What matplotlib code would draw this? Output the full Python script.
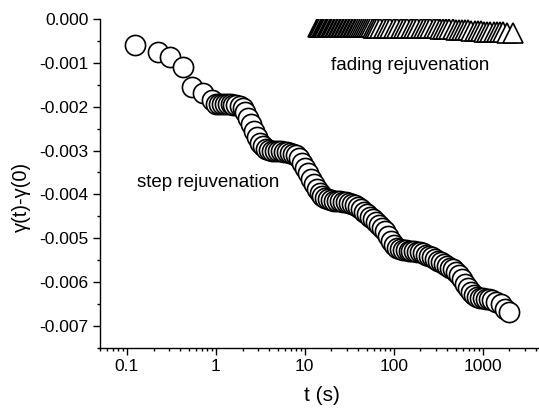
import matplotlib.pyplot as plt
import matplotlib.ticker as ticker

plt.rcParams['font.family'] = ['Liberation Sans', 'DejaVu Sans']
plt.rcParams['axes.unicode_minus'] = False

# step rejuvenation (circles)
t_step = [0.124, 0.224, 0.306, 0.43, 0.54, 0.72, 0.91,
          1.0, 1.08, 1.17, 1.26, 1.36, 1.47, 1.58, 1.71, 1.85, 2.0,
          2.15, 2.32, 2.51, 2.71, 2.93, 3.16, 3.41, 3.69, 3.98, 4.3,
          4.64, 5.01, 5.41, 5.84, 6.31, 6.81, 7.36, 7.94, 8.58, 9.26,
          10, 10.8, 11.7, 12.6, 13.6, 14.7, 15.8, 17.1, 18.5, 20,
          21.5, 23.2, 25.1, 27.1, 29.3, 31.6, 34.1, 36.9, 39.8, 43,
          46.4, 50.1, 54.1, 58.4, 63.1, 68.1, 73.6, 79.4, 85.8, 92.6,
          100, 108, 117, 126, 136, 147, 158, 171, 185, 200,
          215, 232, 251, 271, 293, 316, 341, 369, 398, 430,
          464, 501, 541, 584, 631, 681, 736, 794, 858, 926,
          1000, 1080, 1170, 1260, 1400, 1600, 1800, 1980]
g_step = [-0.00060, -0.00076, -0.00088, -0.00110, -0.00156, -0.00170, -0.00186,
          -0.00193, -0.00193, -0.00194, -0.00194, -0.00195, -0.00195, -0.00196, -0.00197, -0.00199, -0.00203,
          -0.00212, -0.00225, -0.00240, -0.00256, -0.00270, -0.00282, -0.00290, -0.00296, -0.00299, -0.00300,
          -0.00301, -0.00302, -0.00302, -0.00303, -0.00304, -0.00305, -0.00307, -0.00311, -0.00318, -0.00328,
          -0.00340, -0.00352, -0.00364, -0.00376, -0.00387, -0.00396, -0.00403, -0.00408, -0.00411, -0.00413,
          -0.00414, -0.00415, -0.00416, -0.00417, -0.00418, -0.00419, -0.00421, -0.00424, -0.00428, -0.00433,
          -0.00439, -0.00445, -0.00451, -0.00457, -0.00463, -0.00469, -0.00476, -0.00484, -0.00494, -0.00505,
          -0.00515, -0.00521, -0.00524, -0.00526, -0.00527, -0.00528, -0.00529, -0.00530, -0.00531, -0.00532,
          -0.00534, -0.00537, -0.00540, -0.00543, -0.00547, -0.00551, -0.00555, -0.00559, -0.00563, -0.00567,
          -0.00571, -0.00576, -0.00583, -0.00592, -0.00603, -0.00614, -0.00623, -0.00629, -0.00633, -0.00635,
          -0.00637, -0.00638, -0.00639, -0.00641, -0.00644, -0.00650, -0.00660, -0.00668]

# fading rejuvenation (triangles)
t_fade = [14, 14.5, 15.0, 15.5, 16.0, 16.5, 17.1, 17.7, 18.3, 18.9, 19.6, 20.3, 21.0,
          21.8, 22.7, 23.6, 24.5, 25.5, 26.5, 27.5, 28.6, 29.7, 30.9, 32.1, 33.4, 34.7, 36.1, 37.5, 39.0,
          41.0, 43.2, 45.5, 47.8, 50.3, 53.0, 55.7, 58.7, 61.7, 65.0,
          70.9, 77.3, 84.4, 92.1, 100, 110, 120, 131, 143, 156, 170, 185, 202, 220,
          239, 259, 281, 305, 331, 359, 390, 423, 459, 498, 540, 586,
          636, 690, 749, 812, 881, 956, 1037, 1125, 1221, 1325, 1437, 1560,
          1700, 1880, 2180]
g_fade = [-0.000180, -0.000180, -0.000181, -0.000182, -0.000182, -0.000183, -0.000183, -0.000184, -0.000184, -0.000185, -0.000185, -0.000186, -0.000186,
          -0.000187, -0.000187, -0.000188, -0.000188, -0.000189, -0.000189, -0.000190, -0.000190, -0.000190, -0.000191, -0.000191, -0.000192, -0.000192, -0.000193, -0.000193, -0.000194,
          -0.000194, -0.000195, -0.000195, -0.000196, -0.000196, -0.000197, -0.000197, -0.000198, -0.000198, -0.000199,
          -0.000199, -0.000200, -0.000200, -0.000200, -0.000201, -0.000201, -0.000202, -0.000202, -0.000203, -0.000203, -0.000204, -0.000205, -0.000206, -0.000207,
          -0.000210, -0.000213, -0.000216, -0.000220, -0.000224, -0.000228, -0.000232, -0.000236, -0.000240, -0.000245, -0.000250, -0.000255,
          -0.000260, -0.000265, -0.000270, -0.000275, -0.000280, -0.000285, -0.000289, -0.000293, -0.000297, -0.000300, -0.000303, -0.000306,
          -0.000309, -0.000312, -0.000316]

xticks = [0.1, 1, 10, 100, 1000]
xticklabels = ['0.1', '1', '10', '100', '1000']
yticks = [0.0, -0.001, -0.002, -0.003, -0.004, -0.005, -0.006, -0.007]

fig = plt.figure(figsize=(5.39, 4.09), dpi=100)
ax = fig.add_axes([0.1855, 0.149, 0.8145, 0.805])

ax.plot(t_step, g_step, 'o', ms=14.5, mfc='white', mec='black', mew=1.2, ls='none')
ax.plot(t_fade, g_fade, '^', ms=14.5, mfc='white', mec='black', mew=1.2, ls='none')

ax.set_xscale('log')
ax.set_xlim(0.05, 4300)
ax.set_ylim(-0.0075, 0.0)

ax.set_xticks(xticks)
ax.set_xticklabels(xticklabels)
ax.xaxis.set_minor_locator(ticker.LogLocator(base=10, subs=range(2, 10), numticks=20))
ax.xaxis.set_minor_formatter(ticker.NullFormatter())
ax.set_yticks(yticks)
ax.yaxis.set_minor_locator(ticker.MultipleLocator(0.0005))
ax.yaxis.set_major_formatter(ticker.FormatStrFormatter('%.3f'))

ax.spines['top'].set_visible(False)
ax.spines['right'].set_visible(False)
for s in ['left', 'bottom']:
    ax.spines[s].set_linewidth(1.0)
ax.tick_params(which='major', direction='out', length=5, width=1.0, labelsize=12.5, pad=3)
ax.tick_params(which='minor', direction='out', length=2.5, width=1.0)

ax.set_xlabel('t (s)', fontsize=15)
ax.set_ylabel('γ(t)-γ(0)', fontsize=14.5)
ax.xaxis.set_label_coords(0.5046, -0.1154)
ax.yaxis.set_label_coords(-0.1583, 0.4586)

ax.text(0.82, -0.00384, 'step rejuvenation', fontsize=13.5, ha='center', va='baseline')
ax.text(154, -0.00117, 'fading rejuvenation', fontsize=13.5, ha='center', va='baseline')

plt.savefig('out.png', dpi=100)
